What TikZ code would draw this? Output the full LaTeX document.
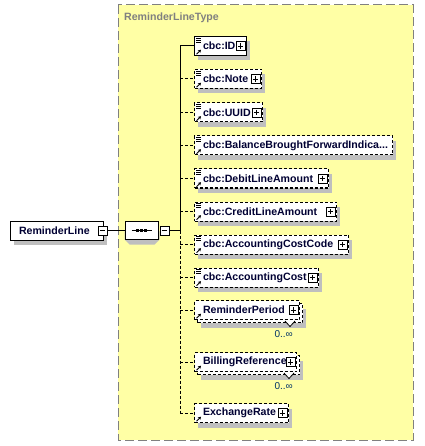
\documentclass[tikz,border=0pt]{standalone}
\usepackage{fontspec}
\setmainfont{Liberation Sans}
\usetikzlibrary{calc, positioning, arrows.meta, shapes.misc}
\definecolor{xsdyellow}{RGB}{255,255,165}
\definecolor{xsdgray}{RGB}{128,128,128}
\definecolor{xsdname}{RGB}{0,0,51}
\definecolor{xsdocc}{RGB}{0,51,102}
% small icons at the corners of an element box
\newcommand{\xdoc}[1]{\foreach \d in {2,4,6}{\draw[line width=0.8pt] ($(#1.north west)+(2,\d)$) -- ++(5,0);}}
\newcommand{\xref}[1]{\draw[-{Stealth[length=3pt,width=3.5pt]}, line width=0.9pt] ($(#1.south west)+(2.5,-1.8)$) -- ++(4.5,-4.5);}

\begin{document}
\begin{tikzpicture}[x=1pt, y=-1pt,
        elembox/.style={draw, fill=white, line width=1pt, text width=#1, minimum height=19pt,
            inner xsep=0pt, inner ysep=0pt, align=left, anchor=west, text=xsdname,
            font=\fontsize{10.6}{12}\selectfont\bfseries, execute at begin node=\hspace*{8.5pt}},
        opt/.style={dash pattern=on 3pt off 2pt},
        pm/.style={draw, fill=white, line width=0.8pt, minimum size=9pt, inner sep=0pt},
        plusbox/.style={pm, path picture={
            \draw[line width=0.8pt] ($(path picture bounding box.center)+(-2.8,0)$) -- ++(5.6,0)
                ($(path picture bounding box.center)+(0,-2.8)$) -- ++(0,5.6);}},
        minusbox/.style={pm, path picture={
            \draw[line width=0.8pt] ($(path picture bounding box.center)+(-2.8,0)$) -- ++(5.6,0);}},
        seqbox/.style={chamfered rectangle, chamfered rectangle xsep=5pt, draw, fill=white,
            line width=1pt, minimum width=33pt, minimum height=18pt, inner sep=0pt},
        occ/.style={inner sep=0pt, text=xsdocc, font=\fontsize{10}{12}\selectfont},
        conn/.style={line width=1pt},
        optconn/.style={conn, opt}
    ]
        \useasboundingbox (0,0) rectangle (424,446);

        % complex type region
        \fill[xsdyellow] (118,5) rectangle (413,440);

        % shadows under the boxes
        \foreach \x/\y/\w in {14/226/93, 198/41.5/52, 198/74.5/67, 198/108/68, 198/141/198,
                198/174/134, 198/207/142, 198/240/154, 198/273/124, 201/308.5/105,
                201/360.5/102, 198/408.5/94}{
            \fill[black!25] (\x,\y) rectangle ++(\w,19);}
        \fill[black!25] (129.5,226.5) -- (154.5,226.5) -- (159.5,231.5) -- (159.5,239.5)
            -- (154.5,244.5) -- (129.5,244.5) -- (124.5,239.5) -- (124.5,231.5) -- cycle;

        \draw[xsdgray, line width=1pt, dash pattern=on 9pt off 4pt] (118,5) rectangle (413,440);
        \node[anchor=west, inner sep=0pt, text=xsdgray, font=\fontsize{10.6}{12}\selectfont\bfseries]
            (title) at (124,18) {ReminderLineType};

        % root element and sequence
        \node[elembox=93pt] (root) at (10,230.5) {ReminderLine};
        \node[minusbox] (rootm) at ($(root.east)+(-1.5,0)$) {};
        \node[seqbox] (seq) at (141.5,230.5) {};
        \draw[conn] ($(seq.center)+(-10,0)$) -- ++(20,0);
        \foreach \dx in {-4,0,4}{\fill ($(seq.center)+(\dx-1.5,-1.5)$) rectangle ++(3,3);}
        \node[minusbox, right=1pt of seq] (seqm) {};
        \coordinate (jn) at (180,230.5);
        \draw[conn] (rootm) -- (seq);
        \draw[conn] (seqm) -- (jn);

        % spine
        \foreach \i/\y in {1/46, 2/79, 3/112.5, 4/145.5, 5/178.5, 6/211.5, 7/244.5, 8/277.5, 9/310, 10/362, 11/413}{
            \coordinate (s\i) at (180,\y);}
        \draw[conn] (jn) -- (s1);
        \draw[optconn] (jn) -- (s11);

        % children
        \node[elembox=52pt] (e1) at (194,46) {cbc:ID};
        \node[plusbox, left=1.5pt of e1.east] (p1) {};
        \xdoc{e1} \xref{e1}
        \draw[conn] (s1) -- (e1.west);

        \foreach \i/\y/\w/\txt in {2/79/67pt/cbc:Note, 3/112.5/68pt/cbc:UUID,
                5/178.5/134pt/cbc:DebitLineAmount, 6/211.5/142pt/cbc:CreditLineAmount,
                7/244.5/154pt/cbc:AccountingCostCode, 8/277.5/124pt/cbc:AccountingCost}{
            \node[elembox=\w, opt] (e\i) at (194,\y) {\txt};
            \node[plusbox, left=1.5pt of e\i.east] (p\i) {};
            \xdoc{e\i} \xref{e\i}
            \draw[optconn] (s\i) -- (e\i.west);
        }

        \node[elembox=198pt, opt] (e4) at (194,145.5) {cbc:BalanceBroughtForwardIndica...};
        \xdoc{e4} \xref{e4}
        \draw[optconn] (s4) -- (e4.west);

        % repeating children
        \node[elembox=105pt, opt] (e9b) at (197,313) {};
        \node[elembox=105pt, opt] (e9) at (194,310) {ReminderPeriod};
        \node[plusbox, left=1.5pt of e9.east] (p9) {};
        \draw[line width=0.8pt, fill=white] ($(e9b.south east)+(-18,-2)$) -- ++(5,5.5) -- ++(5,-5.5);
        \node[occ, anchor=east] (o9) at ($(e9b.south east)+(-10,11.5)$) {0..∞};
        \xref{e9}
        \draw[optconn] (s9) -- (e9.west);

        \node[elembox=102pt, opt] (e10b) at (197,365) {};
        \node[elembox=102pt, opt] (e10) at (194,362) {BillingReference};
        \node[plusbox, left=1.5pt of e10.east] (p10) {};
        \draw[line width=0.8pt, fill=white] ($(e10b.south east)+(-16,-2)$) -- ++(5,5.5) -- ++(5,-5.5);
        \node[occ, anchor=east] (o10) at ($(e10b.south east)+(-7,11.5)$) {0..∞};
        \xref{e10}
        \draw[optconn] (s10) -- (e10.west);

        \node[elembox=94pt, opt] (e11) at (194,413) {ExchangeRate};
        \node[plusbox, left=1.5pt of e11.east] (p11) {};
        \xref{e11}
        \draw[optconn] (s11) -- (e11.west);
    \end{tikzpicture}
\end{document}
